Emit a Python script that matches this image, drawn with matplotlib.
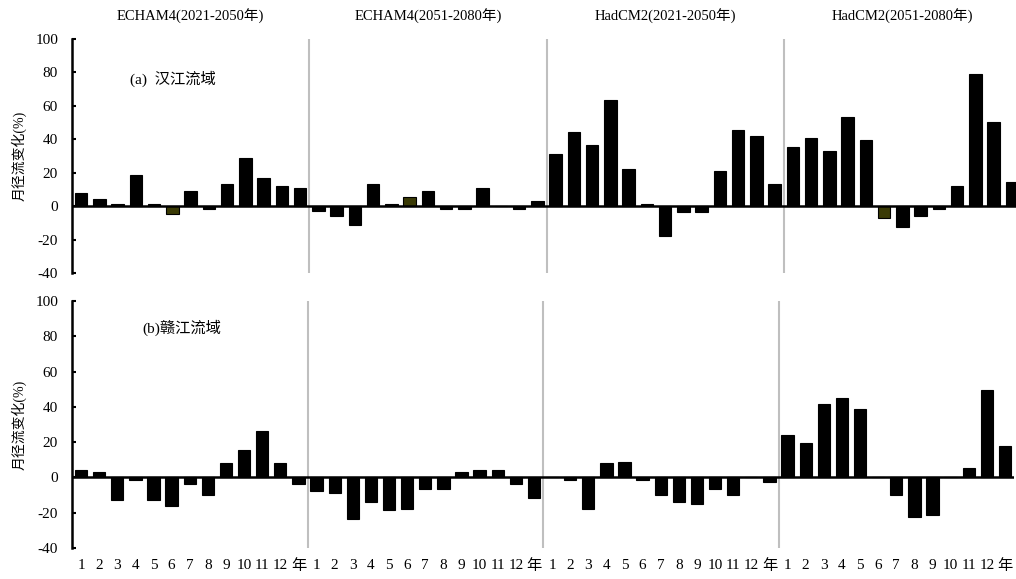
import matplotlib
matplotlib.use("Agg")
import matplotlib.pyplot as plt
import matplotlib.transforms as mtransforms
import numpy as np

plt.rcParams["font.family"] = ["Liberation Serif", "Noto Sans CJK SC"]
plt.rcParams["font.size"] = 11
plt.rcParams["axes.unicode_minus"] = False

months = ["1", "2", "3", "4", "5", "6", "7", "8", "9", "10", "11", "12", "年"]
periods = ["ECHAM4(2021-2050年)", "ECHAM4(2051-2080年)",
           "HadCM2(2021-2050年)", "HadCM2(2051-2080年)"]

# (a) 汉江流域, monthly runoff change (%) per scenario
han_echam4_2021 = [8, 4.3, 1.5, 18.4, 1.5, -4.5, 9.3, -1.8, 13.3, 28.8, 17, 12, 10.7]
han_echam4_2051 = [-3.2, -5.7, -11, 13, 1.5, 5.5, 9.3, -2, -2, 10.7, 0, -2, 3]
han_hadcm2_2021 = [31.4, 44.6, 36.6, 63.6, 22.4, 1.5, -17.7, -3.3, -3.3, 21, 45.8, 41.7, 13.4]
han_hadcm2_2051 = [35.4, 40.5, 33, 53.6, 39.4, -7, -12.3, -5.7, -2, 11.9, 78.8, 50.6, 14.3]

# (b) 赣江流域
gan_echam4_2021 = [4.3, 3.2, -12.7, -1.7, -12.7, -16.4, -4, -10.2, 7.9, 15.3, 26.5, 7.9, -4]
gan_echam4_2051 = [-7.7, -9, -23.8, -14, -18.7, -17.8, -6.6, -6.6, 3, 4.2, 4.2, -4, -11.5]
gan_hadcm2_2021 = [0, -1.7, -17.8, 7.9, 9, -1.7, -10.2, -14, -15.3, -6.6, -10.2, 0, -2.8]
gan_hadcm2_2051 = [24.2, 19.3, 41.4, 45, 38.7, 0, -10, -22.3, -21.3, 0, 5.5, 49.8, 18]

# June bars drawn in olive in some scenarios (group, month index)
olive_a = [(0, 5), (1, 5), (3, 5)]

fig = plt.figure(figsize=(10.16, 5.79), dpi=100)
ax_a = fig.add_axes([72 / 1016, 1 - 273 / 579, 949 / 1016, 234 / 579])
ax_b = fig.add_axes([72 / 1016, 1 - 548 / 579, 942 / 1016, 247 / 579])

panels = [
    (ax_a, [han_echam4_2021, han_echam4_2051, han_hadcm2_2021, han_hadcm2_2051], olive_a),
    (ax_b, [gan_echam4_2021, gan_echam4_2051, gan_hadcm2_2021, gan_hadcm2_2051], []),
]

n = len(months)
for ax, series, olive in panels:
    values = np.concatenate(series)
    x = np.arange(len(values))
    colors = ["black"] * len(values)
    for g, m in olive:
        colors[g * n + m] = "#3a3a05"
    ax.bar(x, values, width=0.68, color=colors, edgecolor="black", linewidth=0.8, zorder=3)
    ax.axhline(0, color="black", linewidth=1.8, zorder=4)
    for g in range(1, 4):
        ax.axvline(g * n - 0.5, color="#bfbfbf", linewidth=1.5, zorder=1)

    ax.set_xlim(-0.5, len(values) - 0.5)
    ax.set_ylim(-40, 100)
    ax.set_yticks(np.arange(-40, 101, 20))
    for side in ["top", "right", "bottom"]:
        ax.spines[side].set_visible(False)
    ax.spines["left"].set_linewidth(1.8)
    ax.tick_params(axis="y", direction="in", length=3, width=1.5, pad=10, labelsize=11)
    ax.set_xticks(x)
    ax.set_xticklabels(months * 4)
    ax.tick_params(axis="x", length=0, pad=8, labelsize=11)
    ax.set_ylabel("月径流变化(%)", fontsize=10, labelpad=6)

ax_a.tick_params(axis="x", labelbottom=False)

trans = mtransforms.blended_transform_factory(ax_a.transData, ax_a.transAxes)
for g, title in enumerate(periods):
    ax_a.text(g * n + 6, 1.098, title, transform=trans, ha="center", va="center", fontsize=10.5)

ax_a.text(0.061, 76, "(a)  汉江流域", transform=mtransforms.blended_transform_factory(ax_a.transAxes, ax_a.transData),
          ha="left", va="center", fontsize=11)
ax_b.text(0.075, 85, "(b)赣江流域", transform=mtransforms.blended_transform_factory(ax_b.transAxes, ax_b.transData),
          ha="left", va="center", fontsize=11)

fig.savefig("out.png", dpi=100)
